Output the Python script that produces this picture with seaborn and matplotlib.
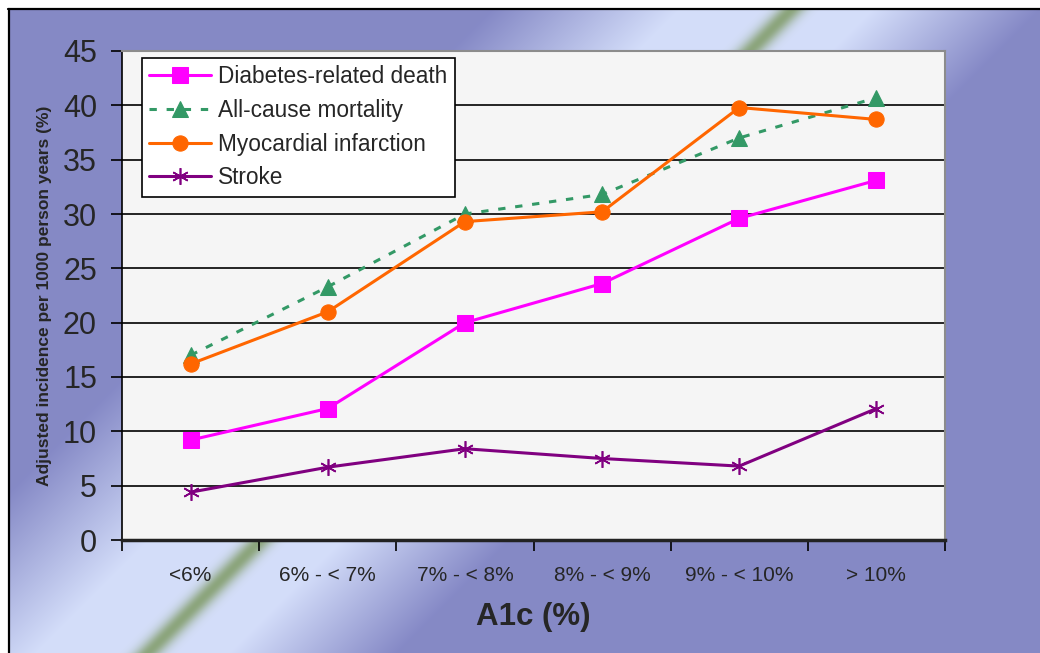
import numpy as np
import pandas as pd
import matplotlib
matplotlib.use("Agg")
import matplotlib.pyplot as plt
import seaborn as sns
from matplotlib import font_manager

categories = ["<6%", "6% - < 7%", "7% - < 8%", "8% - < 9%", "9% - < 10%", "> 10%"]
diabetes_death = [9.2, 12.1, 20.0, 23.6, 29.6, 33.1]
all_cause = [17.0, 23.3, 30.0, 31.8, 37.0, 40.7]
myocardial = [16.2, 21.0, 29.3, 30.2, 39.8, 38.7]
stroke = [4.4, 6.7, 8.4, 7.5, 6.8, 12.1]
y_ticks = [0, 5, 10, 15, 20, 25, 30, 35, 40, 45]

sns.set_theme(style="white")
names = {f.name for f in font_manager.fontManager.ttflist}
base = "Liberation Sans" if "Liberation Sans" in names else "DejaVu Sans"
narrow = "Liberation Sans Narrow" if "Liberation Sans Narrow" in names else base
plt.rcParams["font.family"] = [base, "DejaVu Sans"]

W, H = 1040, 653
fig = plt.figure(figsize=(W / 100, H / 100), dpi=100)
fig.patch.set_facecolor("white")

# background gradient
bg = fig.add_axes([8 / W, 0, (W - 8) / W, (H - 9) / H])
yy, xx = np.mgrid[9:H, 8:W]
u = xx + yy
purple = np.array([133, 137, 198]) / 255
light = np.array([212, 222, 250]) / 255
green = np.array([140, 165, 125]) / 255
t = np.clip((u - 500) / 190, 0, 1) * np.clip((1050 - u) / 170, 0, 1)
t = t[..., None]
img = purple * (1 - t) + light * t
g = np.exp(-((u - 800) / 14.0) ** 2)[..., None]
img = img * (1 - g) + green * g
bg.imshow(img, aspect="auto", extent=[0, 1, 0, 1])
bg.set_axis_off()
fig.add_artist(plt.Line2D([8 / W, 1], [1 - 8.5 / H, 1 - 8.5 / H], color="black", lw=1.6, transform=fig.transFigure))
fig.add_artist(plt.Line2D([8.5 / W, 8.5 / W], [0, 1 - 8.5 / H], color="black", lw=1.6, transform=fig.transFigure))

left, right, top, bottom = 122, 945, 51, 540
ax = fig.add_axes([left / W, 1 - bottom / H, (right - left) / W, (bottom - top) / H])
ax.set_facecolor("#F5F5F5")

x = np.arange(len(categories))
sns.lineplot(x=x, y=diabetes_death, ax=ax, color="#FF00FF", lw=2.2, marker="s", markersize=11,
             markeredgecolor="#FF00FF", label="Diabetes-related death", zorder=4)
sns.lineplot(x=x, y=all_cause, ax=ax, color="#339966", lw=2.2, marker="^", markersize=12,
             markeredgecolor="#339966", label="All-cause mortality", zorder=4)
ax.lines[-1].set_dashes([2.4, 3.2])
sns.lineplot(x=x, y=myocardial, ax=ax, color="#FF6600", lw=2.2, marker="o", markersize=11,
             markeredgecolor="#FF6600", label="Myocardial infarction", zorder=4)
sns.lineplot(x=x, y=stroke, ax=ax, color="#800080", lw=2.2, marker=(6, 2, 0), markersize=12,
             markeredgewidth=1.2, markeredgecolor="#800080", label="Stroke", zorder=4)

ax.set_xlim(-0.5, len(categories) - 0.5)
ax.set_ylim(0, 45)
ax.set_yticks(y_ticks)
ax.set_yticklabels([str(v) for v in y_ticks], fontsize=22)
for v in y_ticks[1:]:
    ax.axhline(v, color="black", lw=1.2, zorder=1)
ax.set_xticks(np.arange(-0.5, len(categories)), minor=False)
ax.set_xticklabels([])
ax.set_xticks(x, minor=True)
ax.set_xticklabels(categories, minor=True, fontsize=15, family=[narrow, "DejaVu Sans"])
ax.tick_params(axis="x", which="major", direction="out", length=8, width=1.2, color="black", bottom=True)
ax.tick_params(axis="x", which="minor", length=0, pad=19)
ax.tick_params(axis="y", direction="out", length=8, width=1.2, color="black", left=True, pad=10)

for s in ["top", "right"]:
    ax.spines[s].set_color("#8C8C8C")
    ax.spines[s].set_linewidth(1.5)
ax.spines["left"].set_color("black")
ax.spines["left"].set_linewidth(1.2)
ax.spines["bottom"].set_color("#222222")
ax.spines["bottom"].set_linewidth(2.5)

ax.set_xlabel("A1c (%)", fontsize=22.5, fontweight="bold", family=[narrow, "DejaVu Sans"], labelpad=12)
ax.set_ylabel("Adjusted incidence per 1000 person years (%)", fontsize=12.5, fontweight="bold",
              family=[narrow, "DejaVu Sans"], labelpad=8)

leg = ax.legend(loc="upper left", bbox_to_anchor=(0.024, 0.986), fontsize=16.3, frameon=True,
                fancybox=False, edgecolor="black", facecolor="white", framealpha=1,
                handlelength=2.75, handletextpad=0.3, borderpad=0.33, labelspacing=0.47, borderaxespad=0)
leg.get_frame().set_linewidth(1.2)

fig.savefig("out.png", dpi=100)
